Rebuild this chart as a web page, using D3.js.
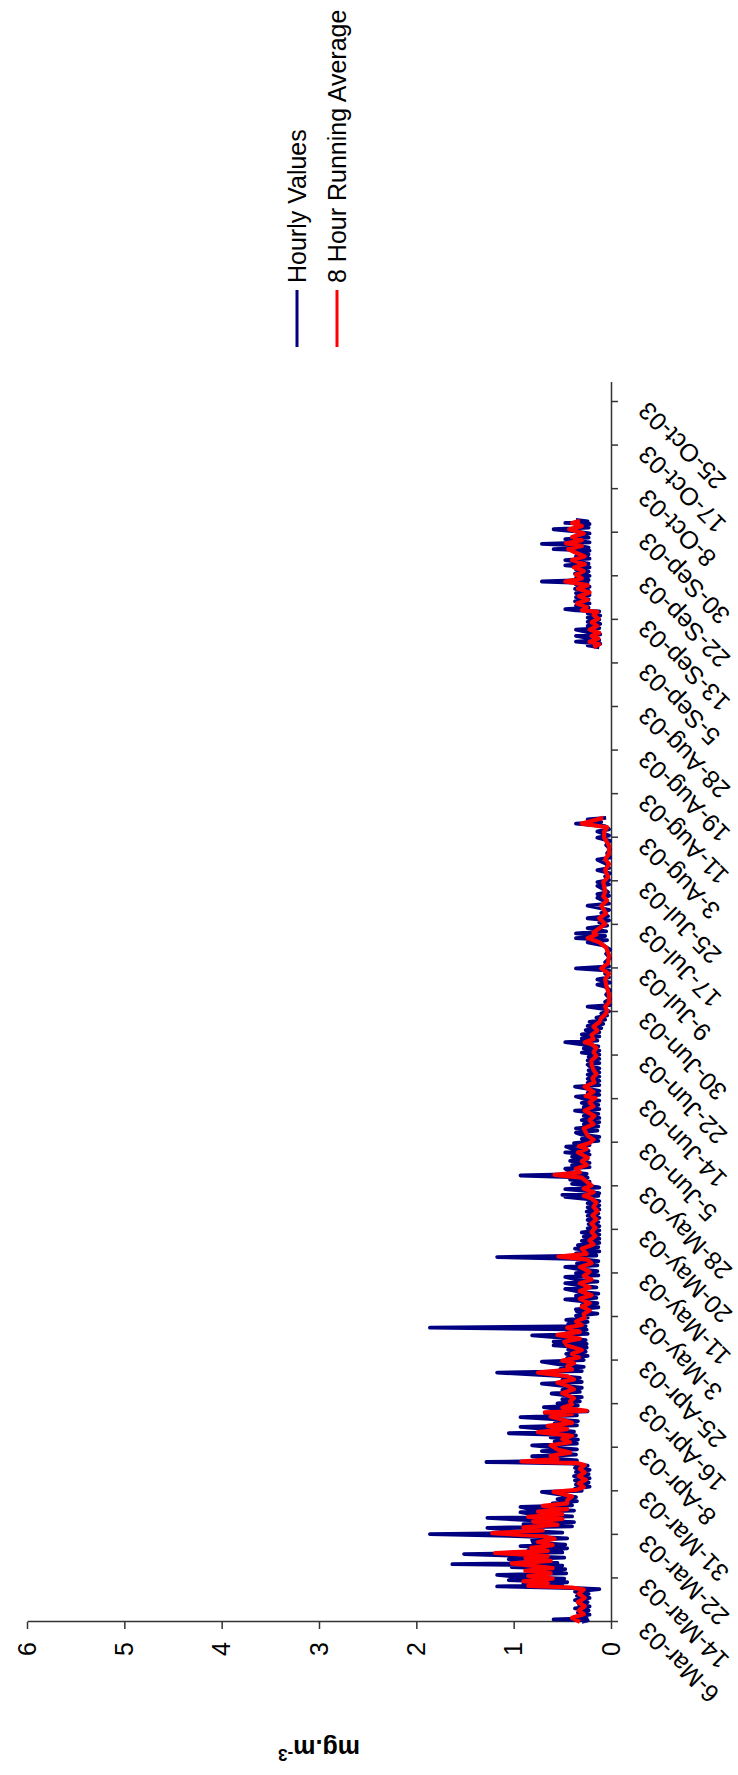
<!DOCTYPE html>
<html>
<head>
<meta charset="utf-8">
<script src="https://cdn.jsdelivr.net/npm/d3@7"></script>
<style>
  body { margin: 0; background: #fff; }
  svg text { font-family: "Liberation Sans", Arial, sans-serif; fill: #000; }
</style>
</head>
<body>
<div id="chart"></div>
<script>
// tick labels on the category axis, one every 200 hours from 6-Mar-03 00:00
const dateLabels = ["6-Mar-03","14-Mar-03","22-Mar-03","31-Mar-03","8-Apr-03","16-Apr-03","25-Apr-03",
  "3-May-03","11-May-03","20-May-03","28-May-03","5-Jun-03","14-Jun-03","22-Jun-03","30-Jun-03",
  "9-Jul-03","17-Jul-03","25-Jul-03","3-Aug-03","11-Aug-03","19-Aug-03","28-Aug-03","5-Sep-03",
  "13-Sep-03","22-Sep-03","30-Sep-03","8-Oct-03","17-Oct-03","25-Oct-03"];
const valueTicks = [0, 1, 2, 3, 4, 5, 6];
const seriesNames = ["Hourly Values", "8 Hour Running Average"];

// [days since 6-Mar-03 00:00, mg.m-3]
const hourlyMarAug = [
  [0,0.30],[0.3,0.24],[0.5,0.59],[0.7,0.25],[1.0,0.37],[1.4,0.22],[1.8,0.34],[2.2,0.23],[2.6,0.37],[3.0,0.22],
  [3.4,0.33],[3.8,0.24],[4.2,0.37],[4.6,0.22],[5.0,0.35],[5.4,0.23],[5.8,0.37],[6.1,0.22],[6.3,0.12],[6.5,0.40],
  [6.8,1.17],[7.0,0.50],[7.3,0.90],[7.6,0.45],[8.0,1.05],[8.3,0.48],[8.6,0.95],[9.0,1.17],[9.3,0.46],[9.7,0.85],
  [10.1,0.47],[10.5,1.02],[10.8,0.50],[11.05,1.63],[11.3,0.55],[11.6,0.95],[12.0,1.05],[12.3,0.48],[12.6,0.90],
  [13.0,1.51],[13.3,0.50],[13.7,0.85],[14.1,0.45],[14.5,0.93],[14.8,0.47],[15.2,0.80],[15.7,0.81],[16.0,0.45],
  [16.4,0.90],[16.8,1.86],[17.1,0.50],[17.5,0.95],[18.0,1.27],[18.3,0.40],[18.7,0.90],[19.1,0.38],[19.5,0.85],
  [19.9,1.27],[20.2,0.40],[20.6,0.80],[21.0,0.93],[21.3,0.38],[21.7,0.85],[22.0,0.93],[22.3,0.40],
  [22.7,0.60],[23.1,0.35],[23.5,0.55],[23.9,0.36],[24.3,0.50],[24.9,0.71],[25.1,0.30],
  [25.5,0.37],[25.9,0.22],[26.3,0.36],[26.7,0.23],[27.1,0.37],[27.5,0.22],[27.9,0.38],[28.3,0.23],[28.7,0.36],
  [29.1,0.22],[29.5,0.37],[29.9,0.24],[30.3,0.40],
  [30.6,1.28],[30.9,0.35],[31.3,0.60],[31.7,0.81],[32.0,0.36],[32.4,0.55],[32.7,0.71],[33.0,0.35],[33.4,0.60],
  [33.8,0.81],[34.1,0.35],[34.5,0.58],[34.9,0.34],[35.3,0.62],[35.7,0.36],[36.1,1.05],[36.4,0.38],[36.8,0.60],
  [37.3,0.93],[37.6,0.35],[38.0,0.58],[38.4,0.34],[38.8,0.60],[39.2,0.93],[39.5,0.35],[40.0,0.68],[40.3,0.24],
  [40.7,0.55],[41.1,0.69],[41.4,0.34],[41.8,0.55],
  [42.2,0.32],[42.6,0.50],[43.0,0.30],[43.7,0.61],[44.0,0.32],[44.4,0.50],[44.8,0.30],[45.2,0.52],[45.6,0.71],
  [45.9,0.30],[46.3,0.50],[46.7,0.32],[47.1,0.55],[47.7,1.17],[48.0,0.30],[48.4,0.52],[48.8,0.28],[49.2,0.50],
  [49.8,0.71],[50.1,0.28],
  [50.5,0.45],[50.9,0.24],[51.3,0.46],[51.7,0.26],[52.1,0.44],[52.5,0.25],[52.9,0.59],[53.2,0.25],[53.6,0.59],
  [53.9,0.26],[54.3,0.45],[54.8,0.81],[55.1,0.24],[55.5,0.45],[55.9,0.25],[56.3,1.86],[56.6,0.26],[57.0,0.44],
  [57.4,0.24],[57.8,0.46],[58.2,0.24],
  [58.6,0.36],[59.0,0.14],[59.4,0.35],[59.8,0.36],[60.2,0.13],[60.6,0.30],[61.0,0.14],[61.4,0.33],[61.7,0.47],
  [62.0,0.15],[62.4,0.36],[62.8,0.13],[63.2,0.33],[63.7,0.47],[64.0,0.15],[64.4,0.33],[64.8,0.47],[65.1,0.14],
  [65.5,0.35],[66.0,0.47],[66.3,0.13],[66.7,0.36],[67.1,0.14],[67.5,0.33],[67.9,0.47],[68.2,0.14],[68.6,0.35],
  [69.0,0.13],[69.4,0.30],[69.8,1.17],[70.1,0.15],[70.5,0.36],[70.9,0.12],[71.4,0.37],[71.7,0.13],[72.1,0.34],
  [72.5,0.12],[72.9,0.30],[73.3,0.12],[73.7,0.28],[74.1,0.12],[74.5,0.30],[74.9,0.12],
  [75.3,0.24],[75.7,0.12],[76.1,0.23],[76.5,0.13],[76.9,0.24],[77.3,0.12],[77.7,0.24],[78.1,0.13],[78.5,0.25],
  [78.9,0.12],[79.3,0.24],[79.7,0.12],[80.1,0.24],[80.5,0.12],[80.9,0.24],[81.3,0.47],[81.5,0.13],[81.7,0.50],
  [82.0,0.12],[82.4,0.24],[82.8,0.47],[83.1,0.12],
  [83.4,0.22],[83.8,0.40],[84.2,0.22],[84.6,0.42],[85.0,0.24],[85.4,0.93],[85.7,0.25],[86.1,0.42],[86.7,0.47],
  [87.0,0.22],[87.4,0.40],[87.8,0.22],[88.2,0.42],[88.6,0.24],[89.0,0.40],[89.4,0.22],[89.8,0.47],[90.1,0.23],
  [90.5,0.40],[90.9,0.46],[91.2,0.22],[91.6,0.38],
  [92.0,0.13],[92.4,0.30],[92.8,0.12],[93.2,0.30],[93.6,0.36],[94.0,0.14],[94.4,0.36],[94.8,0.13],[95.2,0.28],
  [95.6,0.12],[96.0,0.30],[96.4,0.12],[96.8,0.28],[97.2,0.13],[97.8,0.37],[98.1,0.12],[98.5,0.28],[98.9,0.13],
  [99.3,0.30],[99.7,0.12],
  [100.1,0.28],[100.5,0.36],[100.8,0.12],[101.2,0.24],[101.6,0.12],[102.0,0.25],[102.4,0.37],[102.7,0.12],
  [103.1,0.24],[103.5,0.12],[103.9,0.24],[104.3,0.12],[104.7,0.24],[105.1,0.12],[105.5,0.23],[105.9,0.12],
  [106.3,0.22],[106.6,0.24],[106.9,0.12],[107.4,0.24],[107.7,0.12],[108.1,0.23],
  [108.5,0.12],[108.9,0.30],[109.3,0.12],[109.7,0.28],[110.1,0.13],[110.5,0.30],[110.9,0.47],[111.2,0.14],
  [111.6,0.30],[112.0,0.12],[112.4,0.30],[112.8,0.12],[113.2,0.26],[113.6,0.10],[114.0,0.24],[114.4,0.08],
  [114.8,0.22],[115.2,0.06],[115.6,0.15],[116.0,0.04],[116.4,0.10],[116.8,0.02],
  [117.2,0.06],[117.7,0.24],[118.0,0.01],[118.6,0.06],[119.2,0.01],[120.0,0.05],[120.8,0.01],[121.5,0.06],
  [121.9,0.14],[122.3,0.01],[122.9,0.14],[123.3,0.02],[124.0,0.06],[124.6,0.02],[125.0,0.36],[125.4,0.02],
  [126.2,0.06],[127.0,0.01],[127.8,0.05],[128.6,0.01],[129.4,0.08],[130.0,0.24],[130.4,0.04],[130.8,0.36],
  [131.2,0.06],[131.7,0.36],[132.1,0.05],[132.7,0.24],[133.2,0.04],[133.8,0.12],[134.2,0.02],[134.6,0.24],
  [135.0,0.03],[135.6,0.10],[136.2,0.02],[137.0,0.24],[137.4,0.02],[138.0,0.08],[138.5,0.14],[138.9,0.02],
  [139.2,0.14],[139.6,0.03],[140.2,0.08],[140.8,0.14],[141.1,0.02],[141.5,0.14],[141.9,0.02],[142.6,0.06],
  [143.2,0.01],[143.8,0.14],[144.2,0.02],[145.0,0.05],[145.8,0.14],[146.2,0.01],[147.0,0.04],[147.8,0.01],
  [148.6,0.05],[149.4,0.01],[150.0,0.14],[150.4,0.02],[151.2,0.14],[151.6,0.02],[152.2,0.06],[152.7,0.36],
  [153.0,0.10],[153.5,0.24],[153.8,0.05]
];
const hourlySepOct = [
  [186.4,0.12],[186.8,0.24],[187.1,0.11],[187.5,0.36],[187.8,0.12],[188.2,0.24],[188.6,0.36],[188.9,0.11],
  [189.3,0.24],[189.8,0.36],[190.1,0.12],[190.5,0.24],[190.9,0.11],[191.3,0.24],[191.7,0.12],[192.1,0.24],
  [192.5,0.11],[192.9,0.24],[193.3,0.12],[193.5,0.36],[193.7,0.47],[194.0,0.23],[194.4,0.36],[194.8,0.22],
  [195.2,0.37],[195.6,0.23],[196.0,0.36],[196.4,0.22],[196.8,0.36],[197.2,0.23],[197.6,0.37],[198.0,0.22],
  [198.4,0.36],[198.7,0.24],[199.0,0.71],[199.3,0.23],[199.7,0.36],[200.1,0.22],[200.5,0.37],[200.9,0.23],
  [201.3,0.36],[201.7,0.22],[202.1,0.47],[202.4,0.23],[202.8,0.36],[203.1,0.47],[203.4,0.22],[203.8,0.36],
  [204.2,0.23],[204.6,0.37],[204.9,0.22],[205.2,0.59],[205.5,0.23],[205.9,0.36],[206.2,0.71],[206.5,0.22],
  [206.8,0.36],[207.1,0.47],[207.4,0.23],[207.8,0.36],[208.2,0.22],[208.6,0.37],[209.0,0.59],[209.3,0.23],
  [209.7,0.36],[210.0,0.22],[210.2,0.47],[210.5,0.24],[210.8,0.36]
];
const avgMarAug = [
  [0,0.32],[0.8,0.40],[1.5,0.28],[2.2,0.33],[3.0,0.27],[3.8,0.34],[4.6,0.27],[5.4,0.33],[6.2,0.28],
  [6.6,0.40],[6.9,0.85],[7.4,0.65],[7.8,0.90],[8.3,0.60],[8.8,0.85],[9.3,0.62],[9.8,0.88],[10.3,0.60],
  [11.2,1.02],[11.7,0.62],[12.2,0.88],[12.6,0.65],[13.2,1.19],[13.6,0.65],[14.2,0.82],[14.7,0.60],[15.3,0.75],
  [15.9,0.58],[16.4,0.70],[17.0,1.22],[17.5,0.70],[18.1,0.90],[18.6,0.55],[19.2,0.80],[19.7,0.50],[20.1,0.85],
  [20.6,0.50],[21.1,0.75],[21.6,0.45],[22.2,0.70],[22.7,0.45],
  [23.3,0.45],[24.0,0.40],[24.9,0.59],[25.3,0.35],
  [25.8,0.28],[26.5,0.33],[27.2,0.26],[27.9,0.33],[28.6,0.27],[29.3,0.32],[30.0,0.27],
  [30.4,0.35],[30.7,0.92],[31.2,0.55],[31.8,0.62],[32.4,0.42],[33.0,0.55],[33.8,0.62],[34.4,0.42],[35.0,0.50],
  [35.6,0.40],[36.3,0.75],[36.9,0.45],[37.5,0.65],[38.1,0.40],[38.7,0.50],[39.3,0.62],[39.8,0.40],[40.1,0.68],
  [40.4,0.25],[41.0,0.50],[41.6,0.40],
  [42.2,0.42],[42.8,0.38],[43.8,0.50],[44.5,0.38],[45.2,0.45],[45.8,0.55],[46.4,0.38],[47.0,0.45],[47.7,0.75],
  [48.3,0.40],[48.9,0.45],[49.5,0.38],[50.0,0.50],
  [50.6,0.33],[51.3,0.40],[52.0,0.30],[52.9,0.45],[53.6,0.48],[54.2,0.32],[54.9,0.55],[55.5,0.32],[56.3,0.45],
  [56.8,0.30],[57.5,0.36],[58.2,0.27],
  [58.9,0.28],[59.6,0.22],[60.3,0.30],[61.0,0.22],[61.8,0.32],[62.5,0.20],[63.3,0.32],[64.0,0.22],[64.8,0.32],
  [65.5,0.20],[66.2,0.28],
  [67.0,0.22],[67.9,0.32],[68.6,0.20],[69.3,0.24],[69.9,0.54],[70.4,0.25],[71.4,0.30],[72.2,0.18],[73.0,0.22],
  [73.8,0.16],[74.6,0.20],
  [75.4,0.16],[76.2,0.20],[77.0,0.15],[77.8,0.19],[78.6,0.14],[79.4,0.18],[80.2,0.15],[81.0,0.20],[81.5,0.28],
  [82.2,0.18],[82.9,0.28],[83.5,0.20],
  [84.2,0.25],[85.0,0.30],[85.5,0.58],[86.0,0.32],[86.7,0.36],[87.4,0.25],[88.1,0.30],[88.8,0.24],[89.8,0.34],
  [90.5,0.25],[91.0,0.33],[91.6,0.22],
  [92.3,0.18],[93.0,0.24],[93.7,0.26],[94.4,0.28],[95.2,0.18],[96.0,0.22],[96.8,0.17],[97.8,0.27],[98.6,0.18],
  [99.4,0.22],
  [100.2,0.16],[100.6,0.26],[101.4,0.18],[102.4,0.27],[103.2,0.17],[104.0,0.19],[104.8,0.15],[105.6,0.18],
  [106.6,0.20],[107.4,0.20],[108.2,0.15],
  [109.0,0.18],[109.8,0.15],[110.5,0.20],[110.9,0.27],[111.5,0.18],[112.3,0.20],[113.1,0.14],[113.9,0.18],
  [114.7,0.12],[115.5,0.10],[116.2,0.06],[116.9,0.04],
  [117.7,0.06],[118.5,0.02],[120.0,0.02],[121.9,0.05],[122.9,0.06],[124.0,0.02],[125.0,0.10],[126.0,0.03],
  [127.5,0.02],[129.0,0.05],[130.0,0.12],[130.8,0.24],[131.5,0.15],[131.9,0.18],[132.7,0.12],[133.5,0.06],
  [134.6,0.12],[135.5,0.05],[137.0,0.10],[138.0,0.04],[138.8,0.08],[139.6,0.06],[140.8,0.07],[141.5,0.08],
  [142.5,0.03],[143.8,0.06],[145.0,0.02],[145.8,0.06],[147.0,0.02],[148.5,0.02],[150.0,0.07],[151.2,0.07],
  [152.0,0.04],[152.7,0.30],[153.2,0.20],[153.8,0.08]
];
const avgSepOct = [
  [186.4,0.18],[187.0,0.12],[187.5,0.22],[188.1,0.13],[188.6,0.20],[189.2,0.12],[189.8,0.22],[190.5,0.14],
  [191.2,0.20],[191.9,0.13],[192.6,0.18],[193.2,0.14],[193.5,0.30],[194.1,0.25],[194.8,0.35],[195.5,0.24],
  [196.2,0.33],[196.9,0.22],[197.6,0.34],[198.3,0.24],[199.0,0.47],[199.6,0.30],[200.3,0.36],[201.0,0.28],
  [201.7,0.38],[202.3,0.27],[203.1,0.40],[203.8,0.27],[204.5,0.36],[205.2,0.44],[205.8,0.30],[206.3,0.46],
  [206.9,0.30],[207.5,0.40],[208.2,0.28],[209.0,0.43],[209.6,0.30],[210.2,0.40],[210.6,0.32]
];

class RotatedLineChart {

    constructor(div_id){
        this.W = 738;
        this.H = 1775;
        this.svg = d3.select(div_id).append("svg")
            .attr("width", this.W).attr("height", this.H);
        // the chart is drawn upright and then turned a quarter turn to the left
        this.g = this.svg.append("g")
            .attr("transform", `translate(0,${this.H}) rotate(-90)`);
        this.fontSize = 25;
    }

    build_axis(){
        this.xScale = d3.scaleLinear()
            .domain([0, 5690])          // hours since 6-Mar-03
            .range([153, 1392.6]);
        this.yScale = d3.scaleLinear()
            .domain([0, 6])
            .range([611, 27]);

        const xAxis = d3.axisBottom(this.xScale)
            .tickValues(d3.range(0, dateLabels.length * 200, 200))
            .tickFormat((d, i) => dateLabels[i])
            .tickSize(7).tickSizeOuter(0);
        const yAxis = d3.axisLeft(this.yScale)
            .tickValues(valueTicks)
            .tickFormat(d3.format("d"))
            .tickSize(7).tickSizeOuter(0).tickPadding(13);

        const gx = this.g.append("g")
            .attr("class", "x axis")
            .attr("transform", `translate(0,${this.yScale(0)})`)
            .call(xAxis);
        gx.selectAll("text")
            .attr("y", 0).attr("x", 0).attr("dy", 0)
            .attr("transform", "translate(1,38) rotate(-45)")
            .style("text-anchor", "end")
            .style("font-size", this.fontSize + "px");

        const gy = this.g.append("g")
            .attr("class", "y axis")
            .attr("transform", `translate(${this.xScale(0)},0)`)
            .call(yAxis);
        gy.selectAll("text").style("font-size", this.fontSize + "px");

        this.g.selectAll(".axis path, .axis line")
            .attr("stroke", "#333").attr("stroke-width", 1.5);

        // axis title
        const t = this.g.append("text")
            .attr("transform", `translate(35,${(this.yScale(0) + this.yScale(6)) / 2}) rotate(-90)`)
            .style("text-anchor", "middle")
            .style("font-size", this.fontSize + "px")
            .style("font-weight", "bold");
        t.append("tspan").text("mg.m");
        t.append("tspan").attr("baseline-shift", "super").style("font-size", "17px").text("-3");
    }

    draw_lines(){
        const line = d3.line()
            .x(d => this.xScale(d[0] * 24))
            .y(d => this.yScale(d[1]));
        const series = [
            {data: hourlyMarAug, color: "#000080", w: 3.8},
            {data: hourlySepOct, color: "#000080", w: 3.8},
            {data: avgMarAug, color: "#ff0000", w: 4.2},
            {data: avgSepOct, color: "#ff0000", w: 4.2}
        ];
        this.g.append("g").selectAll("path")
            .data(series)
            .enter().append("path")
            .attr("d", s => line(s.data))
            .attr("fill", "none")
            .attr("stroke", s => s.color)
            .attr("stroke-width", s => s.w)
            .attr("stroke-linejoin", "round");
    }

    draw_legend(){
        const colors = ["#000080", "#ff0000"];
        const lg = this.g.append("g").attr("class", "legend");
        const items = lg.selectAll("g")
            .data(seriesNames)
            .enter().append("g")
            .attr("transform", (d, i) => `translate(1428,${297 + i * 40})`);
        items.append("line")
            .attr("x1", 0).attr("x2", 57)
            .attr("stroke", (d, i) => colors[i])
            .attr("stroke-width", 3);
        items.append("text")
            .attr("x", 64).attr("dy", "0.35em")
            .style("font-size", this.fontSize + "px")
            .text(d => d);
    }

    draw(){
        this.build_axis();
        this.draw_lines();
        this.draw_legend();
    }
}

const chart = new RotatedLineChart("#chart");
chart.draw();
</script>
</body>
</html>
